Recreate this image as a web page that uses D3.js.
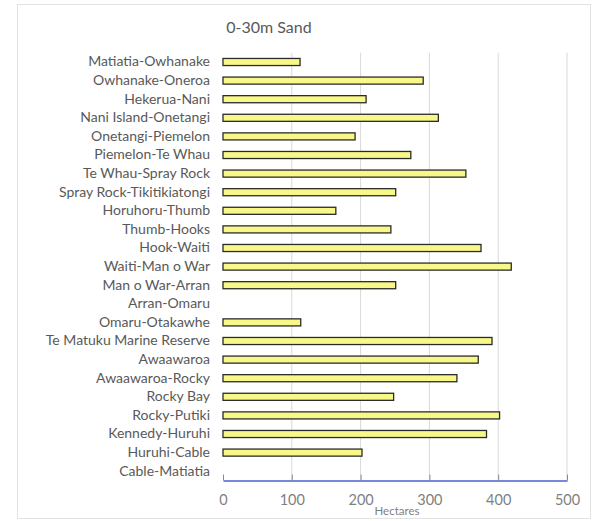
<!DOCTYPE html>
<html><head><meta charset="utf-8">
<script src="https://cdn.jsdelivr.net/npm/d3@7"></script>
<style>body{margin:0;background:#fff}svg{display:block}</style>
</head><body><svg id="c" width="592" height="521"></svg>
<script>
const categories = ["Matiatia-Owhanake","Owhanake-Oneroa","Hekerua-Nani","Nani Island-Onetangi","Onetangi-Piemelon","Piemelon-Te Whau","Te Whau-Spray Rock","Spray Rock-Tikitikiatongi","Horuhoru-Thumb","Thumb-Hooks","Hook-Waiti","Waiti-Man o War","Man o War-Arran","Arran-Omaru","Omaru-Otakawhe","Te Matuku Marine Reserve","Awaawaroa","Awaawaroa-Rocky","Rocky Bay","Rocky-Putiki","Kennedy-Huruhi","Huruhi-Cable","Cable-Matiatia"];
const values = [112,291,208,313,192,273,353,251,164,244,375,419,251,0,113,391,371,340,248,402,383,202,0];
const xTicks = [0,100,200,300,400,500];
const title = "0-30m Sand";
const xTitle = "Hectares";

const svg = d3.select("#c");
const m = {left:223, right:567, top:52.7, bottom:480.5};
const font = "Lato, 'Open Sans', sans-serif";

svg.append("rect").attr("x",17.5).attr("y",4.5).attr("width",573).attr("height",514)
  .attr("fill","#fff").attr("stroke","#e3e3e3");

const x = d3.scaleLinear().domain([0,500]).range([m.left,m.right]);
const y = d3.scaleBand().domain(categories).range([m.top,m.bottom]).paddingInner(0.62).paddingOuter(0.31);

svg.append("g").selectAll("line").data(xTicks.slice(1)).join("line")
  .attr("x1",d=>x(d)).attr("x2",d=>x(d)).attr("y1",m.top).attr("y2",m.bottom)
  .attr("stroke","#d9d9d9").attr("stroke-width",1);

svg.append("g").selectAll("rect").data(categories.map((c,i)=>({c,v:values[i]})).filter(d=>d.v>0)).join("rect")
  .attr("x",x(0)).attr("y",d=>y(d.c)).attr("width",d=>x(d.v)-x(0)).attr("height",y.bandwidth())
  .attr("fill","#f8f888").attr("stroke","#2b2b2b").attr("stroke-width",1.3);

const xa = svg.append("g").attr("transform",`translate(0,${m.bottom})`)
  .call(d3.axisBottom(x).tickValues(xTicks).tickSize(0).tickPadding(14));
xa.select(".domain").attr("stroke","#4a5fd0").attr("stroke-width",1.3);
xa.selectAll(".tick line").remove();
xa.selectAll(".tick").append("line").attr("y1",0).attr("y2",-6).attr("stroke","#8a8a8a");
xa.selectAll("text").attr("font-family",font).attr("font-size",14.5).attr("fill","#7f7f7f");

const ya = svg.append("g").attr("transform",`translate(${m.left},0)`)
  .call(d3.axisLeft(y).tickSize(0).tickPadding(13));
ya.select(".domain").remove();
ya.selectAll("text").attr("font-family",font).attr("font-size",14).attr("fill","#595959");

svg.append("text").attr("x",269).attr("y",33).attr("text-anchor","middle")
  .attr("font-family",font).attr("font-size",16).attr("fill","#595959").text(title);
svg.append("text").attr("x",397).attr("y",515).attr("text-anchor","middle")
  .attr("font-family",font).attr("font-size",11.5).attr("fill","#7f7f7f").text(xTitle);
</script></body></html>
